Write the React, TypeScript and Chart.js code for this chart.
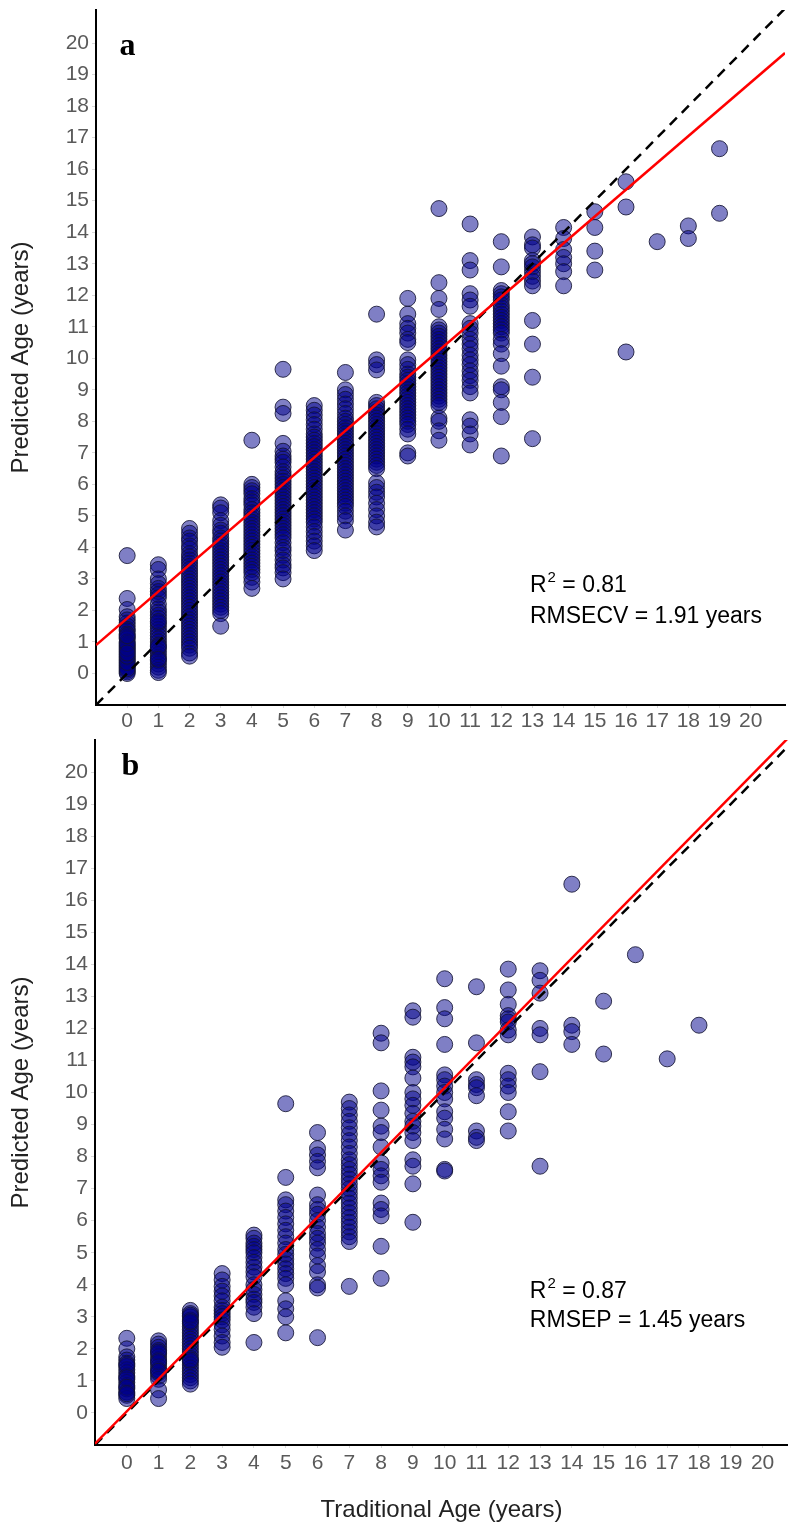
import React, { useEffect, useRef } from 'react';
import { Chart, registerables } from 'chart.js';

Chart.register(...registerables);
Chart.defaults.font.family = '"Liberation Sans", Arial, sans-serif';

// Tick labels shown on both axes
const TICK_VALUES = [0, 1, 2, 3, 4, 5, 6, 7, 8, 9, 10, 11, 12, 13, 14, 15, 16, 17, 18, 19, 20];

// ---------- Panel a: predicted age for each traditional age (0..19) ----------
const a0 = [3.74, 2.38, 2.03, 1.8, 1.7, 1.6, 1.5, 1.4, 1.35, 1.25, 1.15, 1.1, 1.0, 0.9, 0.85, 0.75, 0.7, 0.6, 0.5, 0.45, 0.4, 0.3, 0.25, 0.2, 0.1, 0.05, 0.0, 0.15, 0.35, 0.55, 0.8, 0.95, 1.2, 0.65];
const a1 = [3.45, 3.3, 3.0, 2.85, 2.7, 2.6, 2.5, 2.4, 2.2, 2.05, 1.95, 1.85, 1.75, 1.6, 1.5, 1.4, 1.3, 1.2, 1.1, 1.0, 0.9, 0.8, 0.7, 0.6, 0.5, 0.4, 0.3, 0.2, 0.1, 0.03, 1.65, 0.85, 0.45];
const a2 = [4.6, 4.45, 4.3, 4.2, 4.05, 3.95, 3.8, 3.7, 3.6, 3.5, 3.4, 3.3, 3.2, 3.1, 3.0, 2.9, 2.8, 2.7, 2.6, 2.5, 2.4, 2.3, 2.2, 2.1, 2.0, 1.9, 1.8, 1.7, 1.6, 1.5, 1.4, 1.3, 1.2, 1.1, 1.0, 0.9, 0.8, 0.65, 0.55];
const a3 = [5.35, 5.25, 5.1, 4.85, 4.7, 4.55, 4.45, 4.3, 4.2, 4.1, 4.0, 3.9, 3.8, 3.7, 3.6, 3.5, 3.4, 3.3, 3.2, 3.1, 3.0, 2.9, 2.8, 2.7, 2.6, 2.5, 2.4, 2.3, 2.2, 2.1, 2.0, 1.9, 1.5];
const a4 = [7.4, 6.0, 5.9, 5.8, 5.7, 5.55, 5.45, 5.35, 5.2, 5.1, 5.0, 4.9, 4.8, 4.7, 4.6, 4.5, 4.4, 4.3, 4.2, 4.1, 4.0, 3.9, 3.8, 3.7, 3.6, 3.5, 3.4, 3.3, 3.2, 3.05, 2.9, 2.7];
const a5 = [9.65, 8.45, 8.25, 7.3, 7.05, 6.9, 6.8, 6.7, 6.55, 6.4, 6.3, 6.2, 6.1, 6.0, 5.9, 5.8, 5.7, 5.6, 5.5, 5.4, 5.3, 5.2, 5.1, 5.0, 4.9, 4.8, 4.7, 4.6, 4.5, 4.4, 4.3, 4.15, 4.0, 3.9, 3.75, 3.6, 3.45, 3.35, 3.2, 3.0];
const a6 = [8.5, 8.35, 8.2, 8.05, 7.9, 7.75, 7.6, 7.5, 7.4, 7.3, 7.2, 7.1, 7.0, 6.9, 6.8, 6.7, 6.6, 6.5, 6.4, 6.3, 6.2, 6.1, 6.0, 5.9, 5.8, 5.7, 5.6, 5.5, 5.4, 5.3, 5.2, 5.1, 5.0, 4.9, 4.8, 4.65, 4.5, 4.35, 4.2, 4.05, 3.9];
const a7 = [9.55, 9.0, 8.85, 8.7, 8.55, 8.4, 8.25, 8.1, 8.0, 7.9, 7.8, 7.7, 7.6, 7.5, 7.4, 7.3, 7.2, 7.1, 7.0, 6.9, 6.8, 6.7, 6.6, 6.5, 6.4, 6.3, 6.2, 6.1, 6.0, 5.9, 5.8, 5.7, 5.6, 5.5, 5.4, 5.3, 5.15, 5.0, 4.85, 4.55];
const a8 = [11.4, 9.95, 9.8, 9.63, 8.6, 8.5, 8.4, 8.3, 8.2, 8.1, 8.0, 7.9, 7.8, 7.7, 7.6, 7.5, 7.4, 7.3, 7.2, 7.1, 7.0, 6.9, 6.8, 6.7, 6.6, 6.5, 6.05, 5.9, 5.75, 5.6, 5.4, 5.2, 5.0, 4.8, 4.65];
const a9 = [11.9, 11.4, 11.1, 10.95, 10.8, 10.6, 10.5, 9.95, 9.8, 9.65, 9.5, 9.4, 9.3, 9.2, 9.1, 9.0, 8.9, 8.8, 8.7, 8.6, 8.5, 8.4, 8.3, 8.2, 8.1, 8.0, 7.9, 7.75, 7.6, 7.0, 6.9];
const a10 = [14.75, 12.4, 11.9, 11.55, 11.0, 10.9, 10.8, 10.7, 10.6, 10.5, 10.4, 10.3, 10.2, 10.1, 10.0, 9.9, 9.8, 9.7, 9.6, 9.5, 9.4, 9.3, 9.2, 9.1, 9.0, 8.9, 8.8, 8.7, 8.6, 8.5, 8.1, 8.0, 7.7, 7.4];
const a11 = [14.26, 13.1, 12.8, 12.05, 11.85, 11.65, 11.1, 10.95, 10.8, 10.6, 10.45, 10.3, 10.1, 9.95, 9.8, 9.6, 9.45, 9.3, 9.1, 8.9, 8.05, 7.85, 7.6, 7.25];
const a12 = [13.7, 12.9, 12.15, 12.05, 11.95, 11.85, 11.7, 11.6, 11.5, 11.4, 11.3, 11.2, 11.1, 11.0, 10.9, 10.8, 10.6, 10.45, 10.15, 9.75, 9.1, 9.0, 8.6, 8.15, 6.9];
const a13 = [13.85, 13.6, 13.5, 13.1, 13.0, 12.9, 12.75, 12.6, 12.45, 12.3, 11.2, 10.45, 9.4, 7.45];
const a14 = [14.15, 13.8, 13.45, 13.2, 13.0, 12.75, 12.3];
const a15 = [14.65, 14.15, 13.4, 12.8];
const a16 = [15.6, 14.8, 10.2];
const a17 = [13.7];
const a18 = [14.2, 13.8];
const a19 = [16.65, 14.6];
const panelAColumns = [a0, a1, a2, a3, a4, a5, a6, a7, a8, a9, a10, a11, a12, a13, a14, a15, a16, a17, a18, a19];

// ---------- Panel b: predicted age for each traditional age (0..18) ----------
const b0 = [2.33, 2.0, 1.75, 1.65, 1.55, 1.45, 1.35, 1.25, 1.15, 1.05, 0.95, 0.85, 0.75, 0.65, 0.55, 0.45, 1.5, 1.1, 0.8, 0.6];
const b1 = [2.25, 2.15, 2.05, 1.95, 1.85, 1.75, 1.65, 1.55, 1.45, 1.35, 1.25, 1.15, 1.05, 0.72, 0.45, 1.9, 1.6, 1.3];
const b2 = [3.2, 3.1, 3.0, 2.9, 2.8, 2.7, 2.6, 2.5, 2.4, 2.3, 2.2, 2.1, 2.0, 1.9, 1.8, 1.7, 1.6, 1.5, 1.4, 1.3, 1.2, 1.1, 1.0, 0.9, 3.05, 2.85, 1.65];
const b3 = [4.35, 4.15, 3.95, 3.8, 3.65, 3.5, 3.3, 3.2, 3.1, 3.0, 2.9, 2.75, 2.6, 2.4, 2.2, 2.05];
const b4 = [5.55, 5.45, 5.3, 5.2, 5.1, 5.0, 4.85, 4.7, 4.55, 4.4, 4.25, 4.0, 3.85, 3.7, 3.55, 3.45, 3.3, 3.1, 2.2];
const b5 = [9.65, 7.35, 6.65, 6.5, 6.3, 6.1, 5.9, 5.7, 5.5, 5.3, 5.1, 4.95, 4.8, 4.65, 4.5, 4.35, 4.2, 4.0, 3.5, 3.25, 3.0, 2.5];
const b6 = [8.75, 8.25, 8.05, 7.85, 7.65, 6.8, 6.5, 6.35, 6.2, 6.0, 5.8, 5.6, 5.45, 5.3, 5.1, 4.9, 4.6, 4.4, 4.0, 3.9, 2.35];
const b7 = [9.7, 9.5, 9.3, 9.1, 8.9, 8.7, 8.5, 8.3, 8.1, 7.9, 7.75, 7.6, 7.45, 7.3, 7.15, 7.0, 6.85, 6.7, 6.55, 6.4, 6.25, 6.1, 5.95, 5.8, 5.65, 5.5, 5.35, 3.95];
const b8 = [11.85, 11.55, 10.05, 9.45, 8.95, 8.75, 8.3, 7.8, 7.6, 7.4, 7.2, 6.55, 6.35, 6.15, 5.2, 4.2];
const b9 = [12.55, 12.35, 11.1, 10.95, 10.8, 10.45, 10.0, 9.8, 9.6, 9.35, 9.1, 8.95, 8.75, 8.5, 7.9, 7.7, 7.15, 5.95];
const b10 = [13.55, 12.65, 12.3, 11.5, 10.55, 10.4, 10.2, 10.0, 9.8, 9.4, 9.2, 8.85, 8.55, 7.6, 7.55];
const b11 = [13.3, 11.55, 10.4, 10.25, 10.15, 9.9, 8.8, 8.6, 8.5];
const b12 = [13.85, 13.2, 12.75, 12.4, 12.3, 12.2, 11.95, 11.8, 10.6, 10.4, 10.2, 10.0, 9.4, 8.8];
const b13 = [13.8, 13.5, 13.1, 12.0, 11.8, 10.65, 7.7];
const b14 = [16.5, 12.1, 11.9, 11.5];
const b15 = [12.85, 11.2];
const b16 = [14.3];
const b17 = [11.05];
const b18 = [12.1];
const panelBColumns = [b0, b1, b2, b3, b4, b5, b6, b7, b8, b9, b10, b11, b12, b13, b14, b15, b16, b17, b18];

// Regression fits [slope, intercept]
const fitA = [0.85, 1.75];
const fitB = [1.01, 0.05];

type Spec = {
  top: number;
  height: number;
  cols: number[][];
  fit: number[];
  xMax: number;
  yMax: number;
  padTop: number;
  padRight: number;
  yWidth: number;
  xHeight: number;
  xTickPad: number;
  showXTitle: boolean;
  letter: string;
  letterAt: number[];
  statsAt: number[];
  r2: string;
  errText: string;
};

const specA: Spec = {
  top: 0, height: 735, cols: panelAColumns, fit: fitA, xMax: 21.1, yMax: 21.05,
  padTop: 10, padRight: 3, yWidth: 96, xHeight: 30, xTickPad: 1, showXTitle: false,
  letter: 'a', letterAt: [-0.25, 19.62], statsAt: [12.92, 2.58, 1.6],
  r2: '0.81', errText: 'RMSECV = 1.91 years',
};

const specB: Spec = {
  top: 735, height: 792, cols: panelBColumns, fit: fitB, xMax: 20.8, yMax: 21,
  padTop: 5, padRight: 0, yWidth: 95, xHeight: 82, xTickPad: 3, showXTitle: true,
  letter: 'b', letterAt: [-0.17, 19.9], statsAt: [12.68, 3.59, 2.68],
  r2: '0.87', errText: 'RMSEP = 1.45 years',
};

const setTicks = (sc: any) => {
  sc.ticks = TICK_VALUES.map((v) => ({ value: v }));
};

function makeChart(canvas: HTMLCanvasElement, s: Spec) {
  const pts = s.cols.flatMap((vals, i) => vals.map((v) => ({ x: i, y: v })));
  const [m, b] = s.fit;
  const annot = {
    id: 'annot',
    afterDraw(chart: any) {
      const { ctx } = chart;
      const x = chart.scales.x;
      const y = chart.scales.y;
      ctx.save();
      ctx.fillStyle = '#000';
      ctx.textBaseline = 'alphabetic';
      ctx.textAlign = 'left';
      ctx.font = 'bold 32px "Liberation Serif", "Times New Roman", serif';
      ctx.fillText(s.letter, x.getPixelForValue(s.letterAt[0]), y.getPixelForValue(s.letterAt[1]));
      const sx = x.getPixelForValue(s.statsAt[0]);
      const y1 = y.getPixelForValue(s.statsAt[1]);
      const y2 = y.getPixelForValue(s.statsAt[2]);
      ctx.font = '23px "Liberation Sans", Arial, sans-serif';
      ctx.fillText('R', sx, y1);
      const rw = ctx.measureText('R').width;
      ctx.font = '15px "Liberation Sans", Arial, sans-serif';
      ctx.fillText('2', sx + rw + 1, y1 - 10);
      const tw = ctx.measureText('2').width;
      ctx.font = '23px "Liberation Sans", Arial, sans-serif';
      ctx.fillText(' = ' + s.r2, sx + rw + 1 + tw, y1);
      ctx.fillText(s.errText, sx, y2);
      ctx.restore();
    },
  };

  return new Chart(canvas, {
    type: 'scatter',
    data: {
      datasets: [
        {
          type: 'line',
          data: [{ x: -1, y: m * -1 + b }, { x: s.xMax, y: m * s.xMax + b }],
          borderColor: '#ff0000',
          borderWidth: 2.5,
          pointRadius: 0,
          fill: false,
          clip: 0,
        } as any,
        {
          type: 'line',
          data: [{ x: -1, y: -1 }, { x: 22, y: 22 }],
          borderColor: '#000000',
          borderWidth: 2.5,
          borderDash: [10, 7],
          pointRadius: 0,
          fill: false,
          clip: 0,
        } as any,
        {
          type: 'scatter',
          data: pts,
          backgroundColor: 'rgba(0,0,139,0.5)',
          borderColor: 'rgba(20,20,50,0.85)',
          borderWidth: 1,
          pointRadius: 8,
        } as any,
      ],
    },
    options: {
      responsive: false,
      animation: false,
      events: [],
      layout: { autoPadding: false, padding: { top: s.padTop, right: s.padRight, left: 0, bottom: 0 } },
      plugins: { legend: { display: false }, tooltip: { enabled: false } },
      scales: {
        x: {
          type: 'linear',
          min: -1,
          max: s.xMax,
          afterBuildTicks: setTicks,
          ticks: {
            autoSkip: false,
            maxRotation: 0,
            color: '#5a5a5a',
            font: { size: 21 },
            padding: s.xTickPad,
          },
          grid: { drawOnChartArea: false, tickLength: 3, color: '#d8d8d8' },
          border: { display: true, color: '#000', width: 2 },
          title: {
            display: s.showXTitle,
            text: 'Traditional Age (years)',
            color: '#222',
            font: { size: 24 },
            padding: { top: 0, bottom: 2 },
          },
          afterFit: (sc: any) => {
            sc.height = s.xHeight;
            sc.paddingLeft = 0;
            sc.paddingRight = 0;
          },
        },
        y: {
          type: 'linear',
          min: -1,
          max: s.yMax,
          afterBuildTicks: setTicks,
          ticks: {
            autoSkip: false,
            color: '#5a5a5a',
            font: { size: 21 },
            padding: 3,
          },
          grid: { drawOnChartArea: false, tickLength: 4, color: '#d8d8d8' },
          border: { display: true, color: '#000', width: 2 },
          title: {
            display: true,
            text: 'Predicted Age (years)',
            color: '#222',
            font: { size: 24 },
            padding: { top: 7, bottom: 0 },
          },
          afterFit: (sc: any) => {
            sc.width = s.yWidth;
            sc.paddingTop = 0;
            sc.paddingBottom = 0;
          },
        },
      },
    } as any,
    plugins: [annot],
  });
}

function Panel({ spec }: { spec: Spec }) {
  const ref = useRef<HTMLCanvasElement>(null);
  useEffect(() => {
    if (!ref.current) return;
    const c = makeChart(ref.current, spec);
    return () => c.destroy();
  }, [spec]);
  return (
    <canvas
      ref={ref}
      width={788}
      height={spec.height}
      style={{ position: 'absolute', left: 0, top: spec.top, width: 788, height: spec.height, display: 'block' }}
    />
  );
}

export default function App() {
  return (
    <div style={{ position: 'absolute', left: 0, top: 0, width: 788, height: 1527, background: '#fff', overflow: 'hidden' }}>
      <Panel spec={specA} />
      <Panel spec={specB} />
    </div>
  );
}
